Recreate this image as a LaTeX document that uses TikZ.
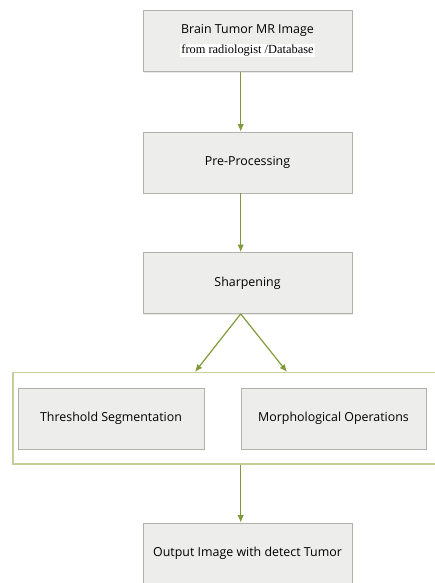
\documentclass[tikz,border=0pt]{standalone}
\usepackage{fontspec}
\setmainfont{Open Sans}
\newfontfamily\serifpart{Liberation Serif}
\usepackage{xcolor}
\usepackage{tikz}
\usetikzlibrary{calc, positioning, arrows.meta, shadows}
\definecolor{flowgreen}{HTML}{7F9A37}
\definecolor{boxfill}{HTML}{EDEDEB}
\definecolor{boxline}{HTML}{B2B2AC}
\definecolor{groupline}{HTML}{C8CC98}
\tikzset{
	line width = .75pt,
	font = \fontsize{12.4}{14}\selectfont,
	stepbox/.style={
		draw=boxline,
		fill=boxfill,
		line width=.8pt,
		rectangle,
		minimum width=209pt,
		minimum height=61pt,
		inner sep=2pt,
		drop shadow={opacity=.18, shadow xshift=1.2pt, shadow yshift=-1.2pt}
	},
	groupbox/.style={
		draw=groupline,
		line width=1.1pt,
		rectangle,
		minimum width=427pt,
		minimum height=91.5pt
	},
	flow/.style={
		draw=flowgreen,
		line width=1.2pt,
		-{Latex[length=7.5pt,width=6.5pt]}
	}
}

\begin{document}
\begin{tikzpicture}[x=1pt, y=-1pt]
\useasboundingbox (0,0) rectangle (435,583);

\node[stepbox, align=center] (input) at (247.5,41)
	{Brain Tumor MR Image\\[6pt]{\serifpart\setlength{\fboxsep}{1pt}\colorbox{white}{from radiologist /Database}}};
\node[stepbox] (pre) at (247.5,162.5) {Pre-Processing};
\node[stepbox] (sharp) at (247.5,283) {Sharpening};

% ---
% Segmentation block
% ---
\node[groupbox] (seg) at (226.5,418.25) {};
\node[stepbox, minimum width=186pt] (thresh) at (111,418.5) {Threshold Segmentation};
\node[stepbox, minimum width=185pt] (morph) at (333.5,418.5) {Morphological Operations};

\node[stepbox] (out) at (247.5,553.5) {Output Image with detect Tumor};

% ---
% Flow
% ---
\draw[flow] ([xshift=-6.8pt]input.south) -- ([xshift=-6.8pt]pre.north);
\draw[flow] ([xshift=-6.8pt]pre.south) -- ([xshift=-6.8pt]sharp.north);
\draw[flow] ([xshift=-6.8pt]sharp.south) -- ([xshift=-31.5pt]seg.north);
\draw[flow] ([xshift=-6.8pt]sharp.south) -- ([xshift=60.5pt]seg.north);
\draw[flow] ([xshift=14.2pt]seg.south) -- ([xshift=-6.8pt]out.north);
\end{tikzpicture}
\end{document}
